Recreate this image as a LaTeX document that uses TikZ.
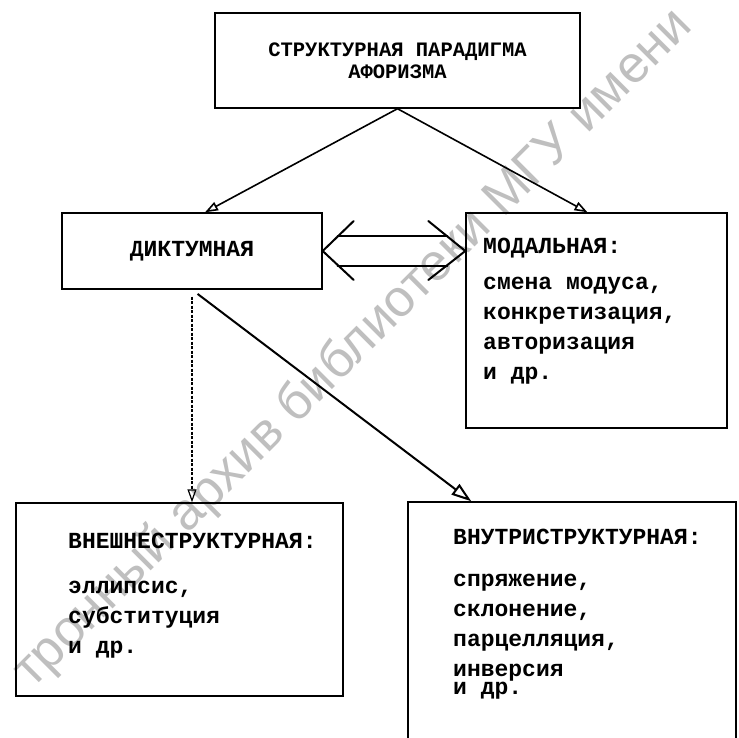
\documentclass[tikz,border=0pt]{standalone}
\usepackage{fontspec}
\usetikzlibrary{arrows.meta}
\newfontfamily\typefont{Liberation Mono}
\newfontfamily\markfont{Liberation Sans}

\begin{document}
\begin{tikzpicture}[x=1pt,y=-1pt,
  box/.style={draw,line width=1.4pt,inner sep=0pt},
  typed/.style={font=\typefont\bfseries\fontsize{23}{30}\selectfont,inner sep=0pt},
  items/.style={typed,align=left,anchor=north west},
  link/.style={line width=1.6pt,-{Triangle[open,length=13pt,width=9pt]}},
  dbl/.style={line width=2pt,line cap=round}]
\path[use as bounding box] (0,0) rectangle (739,738);
\clip (0,0) rectangle (739,738);
% library stamp across the page
\node[rotate=45,anchor=base west,inner sep=0pt,text=black!25,
  font=\markfont\fontsize{52}{52}\selectfont] (stamp) at (32,690)
  {тронный архив библиотеки МГУ имени};
% boxes
\node[box,minimum width=365pt,minimum height=95pt,align=center,
  font=\typefont\bfseries\fontsize{20.5}{22}\selectfont] (top) at (397.5,60.5)
  {СТРУКТУРНАЯ ПАРАДИГМА\\АФОРИЗМА};
\node[box,typed,minimum width=260pt,minimum height=76pt] (dict) at (192,251) {ДИКТУМНАЯ};
\node[box,minimum width=261pt,minimum height=215pt] (modal) at (596.5,320.5) {};
\node[box,minimum width=327pt,minimum height=193pt] (ext) at (179.5,599.5) {};
\node[box,minimum width=328pt,minimum height=260pt] (int) at (572,632) {};
% lists
\node[items] (modaltxt) at (483,238) {МОДАЛЬНАЯ:\\[6pt]смена модуса,\\конкретизация,\\авторизация\\и др.};
\node[items] (exttxt) at (68,533) {ВНЕШНЕСТРУКТУРНАЯ:\\[15pt]эллипсис,\\субституция\\и др.};
\node[items] (inttxt) at (453,529) {ВНУТРИСТРУКТУРНАЯ:\\[12pt]спряжение,\\склонение,\\парцелляция,\\инверсия\\[-12pt]и др.};
% arrows
\draw[link] (top.south) -- ([xshift=13pt]dict.north);
\draw[link] (top.south) -- ([xshift=-9pt]modal.north);
\draw[link,line width=1.2pt,dash pattern=on 3pt off 1.5pt,shorten <=7pt] (dict.south) -- (dict.south |- ext.north);
\draw[link,line width=2pt,shorten <=7pt,-{Triangle[open,length=20pt,width=13pt]}] (dict.south) -- ([xshift=64pt]int.north west);
% double arrow between dictum and modus
\coordinate (lt) at (dict.east);
\coordinate (rt) at (modal.west |- dict.east);
\draw[dbl] (lt) ++(31,-30) -- (lt) -- ++(31,29);
\draw[dbl] (rt) ++(-37,-30) -- (rt) -- ++(-37,29);
\draw[dbl] ([shift={(15,-15)}]lt) -- ([shift={(-18,-15)}]rt);
\draw[dbl] ([shift={(15,15)}]lt) -- ([shift={(-18,15)}]rt);
\end{tikzpicture}
\end{document}
